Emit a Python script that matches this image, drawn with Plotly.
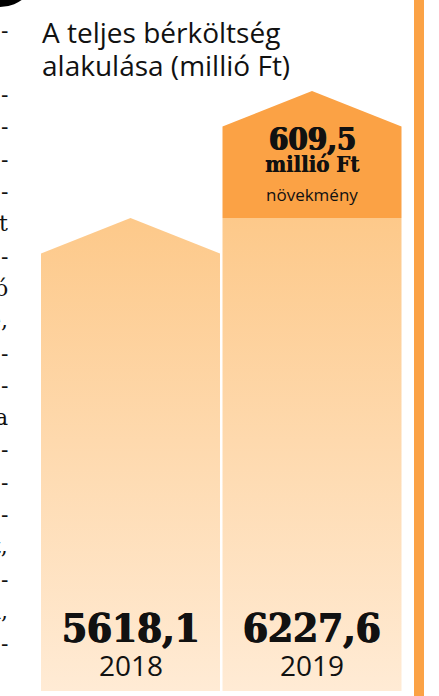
import plotly.graph_objects as go

W, H = 439, 696

# ---- data ----
years = ["2018", "2019"]
totals = [5618.1, 6227.6]
title_lines = ["A teljes bérköltség", "alakulása (millió Ft)"]
increment_unit = "millió Ft"
increment_word = "növekmény"
margin_fragments = ["-", "", "-", "-", "-", "-", "t", "-", "ó", "e,", "-", "-",
                    "a", "-", "-", "-", "t,", "-", "i,", "-"]

# ---- styles ----
DARK = "#FBA245"
LIGHT_TOP = "#FDC98A"
LIGHT_BOTTOM = "#FFEBD5"
INK = "#111111"
SANS = "Open Sans"
SLAB = "DejaVu Serif"
SLAB_C = "DejaVu Serif Condensed"
HEAVY = "0.7px 0 0 #111111, -0.7px 0 0 #111111"

# pixel layout anchors
PX_FIRST_TOP = 218
PX_LAST_TOP = 91
PX_BASE = 691
ROOF_PX = 35.5
BAR_CENTER0_PX = 130.5
BAR_STEP_PX = 181.5
BAR_HALF_PX = 89.5

k = (PX_FIRST_TOP - PX_LAST_TOP) / (totals[1] - totals[0])  # px per unit
y_top = totals[1] + PX_LAST_TOP / k
y_bot = totals[0] - (H - PX_FIRST_TOP) / k
base = totals[0] - (PX_BASE - PX_FIRST_TOP) / k
roof = ROOF_PX / k
x_lo = -BAR_CENTER0_PX / BAR_STEP_PX
x_hi = (W - BAR_CENTER0_PX) / BAR_STEP_PX
hw = BAR_HALF_PX / BAR_STEP_PX


def py(p):
    return 1 - p / H


def px(p):
    return p / W


def fmt(v):
    return f"{v:.1f}".replace(".", ",")


grad = dict(type="vertical", colorscale=[[0, LIGHT_BOTTOM], [1, LIGHT_TOP]],
            start=base, stop=totals[0])

fig = go.Figure()
v0, v1 = totals
# 2018 house-shaped bar
fig.add_trace(go.Scatter(
    x=[0 - hw, 0 - hw, 0, 0 + hw, 0 + hw],
    y=[base, v0 - roof, v0, v0 - roof, base],
    fill="toself", fillgradient=grad, mode="lines", line=dict(width=0),
    hoverinfo="skip", showlegend=False))
# 2019 base part (equal to 2018 level)
fig.add_trace(go.Scatter(
    x=[1 - hw, 1 - hw, 1 + hw, 1 + hw],
    y=[base, v0, v0, base],
    fill="toself", fillgradient=grad, mode="lines", line=dict(width=0),
    hoverinfo="skip", showlegend=False))
# 2019 increment with roof
fig.add_trace(go.Scatter(
    x=[1 - hw, 1 - hw, 1, 1 + hw, 1 + hw],
    y=[v0, v1 - roof, v1, v1 - roof, v0],
    fill="toself", fillcolor=DARK, mode="lines", line=dict(width=0),
    hoverinfo="skip", showlegend=False))

ann = []
for j, line in enumerate(title_lines):
    ann.append(dict(x=px(40), y=py(32 + 33 * j), xref="paper", yref="paper",
                    xanchor="left", yanchor="middle", align="left",
                    showarrow=False, text=line,
                    font=dict(family=SANS, size=28, color=INK)))
for i, (yr, v) in enumerate(zip(years, totals)):
    ann.append(dict(x=i, y=py(627), xref="x", yref="paper", showarrow=False,
                    yanchor="middle", text=f"<b>{fmt(v)}</b>",
                    font=dict(family=SLAB_C, size=40, color=INK, shadow=HEAVY)))
    ann.append(dict(x=i, y=py(665), xref="x", yref="paper", showarrow=False,
                    yanchor="middle", text=yr,
                    font=dict(family=SANS, size=28, color=INK)))
ann.append(dict(x=1, y=py(139), xref="x", yref="paper", showarrow=False,
                yanchor="middle", text=f"<b>{fmt(v1 - v0)}</b>",
                font=dict(family=SLAB_C, size=31, color=INK, shadow=HEAVY)))
ann.append(dict(x=1, y=py(164), xref="x", yref="paper", showarrow=False,
                yanchor="middle", text=f"<b>{increment_unit}</b>",
                font=dict(family=SLAB_C, size=22, color=INK,
                          shadow="0.4px 0 0 #111111")))
ann.append(dict(x=1, y=py(194), xref="x", yref="paper", showarrow=False,
                yanchor="middle", text=increment_word,
                font=dict(family=SANS, size=17, color=INK)))
for j, t in enumerate(margin_fragments):
    if not t:
        continue
    ann.append(dict(x=px(10), y=py(30 + 32.3 * j), xref="paper", yref="paper",
                    xanchor="right", yanchor="middle", showarrow=False, text=t,
                    font=dict(family="DejaVu Serif", size=22, color=INK)))

shapes = [
    dict(type="circle", xref="paper", yref="paper", x0=px(-37), x1=px(37),
         y0=py(7), y1=py(-67), fillcolor="#000000", line=dict(width=0)),
    dict(type="rect", xref="paper", yref="paper", x0=px(414), x1=px(424),
         y0=0, y1=1, fillcolor=DARK, line=dict(width=0)),
]

fig.update_layout(
    width=W, height=H, margin=dict(l=0, r=0, t=0, b=0),
    paper_bgcolor="white", plot_bgcolor="white",
    xaxis=dict(range=[x_lo, x_hi], visible=False, fixedrange=True),
    yaxis=dict(range=[y_bot, y_top], visible=False, fixedrange=True),
    annotations=ann, shapes=shapes, showlegend=False,
)
fig.write_html("out.html", config=dict(displayModeBar=False),
               post_script="document.body.style.margin='0';"
                           "document.body.style.overflow='hidden';")
